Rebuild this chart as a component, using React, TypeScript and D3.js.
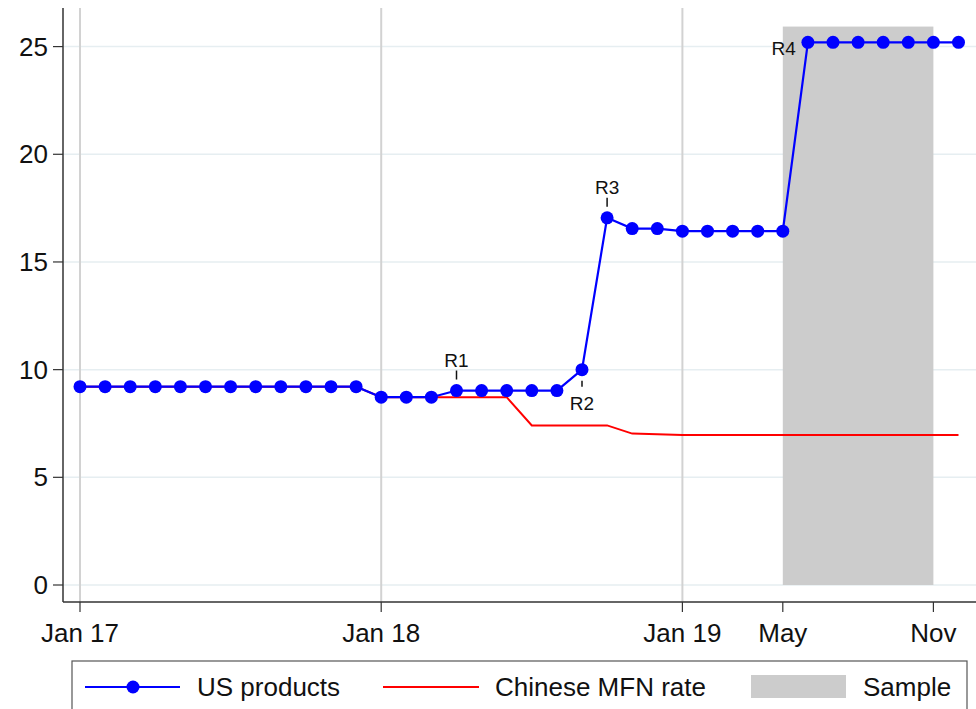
import React from "react";
import * as d3 from "d3";

// month index 0 = Jan 2017 ... 35 = Dec 2019
const usProducts = [
  9.21, 9.21, 9.21, 9.21, 9.21, 9.21, 9.21, 9.21, 9.21, 9.21, 9.21, 9.21,
  8.72, 8.72, 8.72, 9.03, 9.03, 9.03, 9.03, 9.03, 10.0, 17.05, 16.55, 16.55,
  16.43, 16.43, 16.43, 16.43, 16.43, 25.2, 25.2, 25.2, 25.2, 25.2, 25.2, 25.2,
];
const chineseMFN = [
  9.21, 9.21, 9.21, 9.21, 9.21, 9.21, 9.21, 9.21, 9.21, 9.21, 9.21, 9.21,
  8.72, 8.72, 8.72, 8.72, 8.72, 8.72, 7.41, 7.41, 7.41, 7.41, 7.03, 7.0,
  6.96, 6.96, 6.96, 6.96, 6.96, 6.96, 6.96, 6.96, 6.96, 6.96, 6.96, 6.96,
];
const xTickIdx = [0, 12, 24, 28, 34];
const xTickLabels = ["Jan 17", "Jan 18", "Jan 19", "May", "Nov"];
const xLineIdx = [0, 12, 24];
const yTicks = [0, 5, 10, 15, 20, 25];
const sampleRange = [28, 34];
const sampleTop = 25.93;
const roundLabels = [
  { idx: 15, text: "R1", pos: "above" },
  { idx: 20, text: "R2", pos: "below" },
  { idx: 21, text: "R3", pos: "above" },
  { idx: 29, text: "R4", pos: "left" },
];
const legendItems = ["US products", "Chinese MFN rate", "Sample"];

const W = 976;
const H = 709;
const FONT = "'Liberation Sans', Arial, Helvetica, sans-serif";
const BLUE = "#0000ff";
const RED = "#ff0000";
const GREY = "#cccccc";

export default function App() {
  const x = d3.scaleLinear().domain([0, 35]).range([80, 958.5]);
  const y = d3.scaleLinear().domain([0, 25]).range([585, 46.6]);
  const axisY = 602;
  const axisX = 63;

  const line = d3
    .line<number>()
    .x((_, i) => x(i))
    .y((d) => y(d));

  return (
    <div style={{ position: "absolute", left: 0, top: 0 }}>
      <svg width={W} height={H} style={{ display: "block", background: "#fff" }} fontFamily={FONT}>
        {/* horizontal gridlines */}
        {yTicks.map((t) => (
          <line key={"g" + t} x1={axisX} x2={W} y1={y(t)} y2={y(t)} stroke="#e6eef1" strokeWidth={1.5} />
        ))}
        {/* sample shade */}
        <rect
          x={x(sampleRange[0])}
          y={y(sampleTop)}
          width={x(sampleRange[1]) - x(sampleRange[0])}
          height={y(0) - y(sampleTop)}
          fill={GREY}
        />
        {/* vertical lines */}
        {xLineIdx.map((i) => (
          <line key={"v" + i} x1={x(i)} x2={x(i)} y1={8} y2={axisY} stroke="#d2d2d2" strokeWidth={2} />
        ))}
        {/* axes */}
        <line x1={axisX} x2={axisX} y1={8} y2={axisY} stroke="#333" strokeWidth={1.5} />
        <line x1={axisX} x2={W} y1={axisY} y2={axisY} stroke="#333" strokeWidth={1.5} />
        {yTicks.map((t) => (
          <g key={"yt" + t}>
            <line x1={axisX - 10} x2={axisX} y1={y(t)} y2={y(t)} stroke="#333" strokeWidth={1.2} />
            <text x={48} y={y(t)} dy="0.35em" textAnchor="end" fontSize={26} fill="#111">
              {t}
            </text>
          </g>
        ))}
        {xTickIdx.map((i, k) => (
          <g key={"xt" + i}>
            <line x1={x(i)} x2={x(i)} y1={axisY} y2={axisY + 10} stroke="#333" strokeWidth={1.2} />
            <text x={x(i)} y={633} dy="0.35em" textAnchor="middle" fontSize={26} fill="#111">
              {xTickLabels[k]}
            </text>
          </g>
        ))}
        {/* MFN line */}
        <path d={line(chineseMFN) || ""} fill="none" stroke={RED} strokeWidth={2} />
        {/* US products */}
        <path d={line(usProducts) || ""} fill="none" stroke={BLUE} strokeWidth={2.2} />
        {usProducts.map((v, i) => (
          <circle key={"p" + i} cx={x(i)} cy={y(v)} r={6.5} fill={BLUE} />
        ))}
        {/* round labels */}
        {roundLabels.map((r) => {
          const cx = x(r.idx);
          const cy = y(usProducts[r.idx]);
          if (r.pos === "above") {
            return (
              <g key={r.text}>
                <line x1={cx} x2={cx} y1={cy - 20} y2={cy - 11} stroke="#111" strokeWidth={1.5} />
                <text x={cx} y={cy - 30} dy="0.35em" textAnchor="middle" fontSize={19} fill="#111">
                  {r.text}
                </text>
              </g>
            );
          }
          if (r.pos === "below") {
            return (
              <g key={r.text}>
                <line x1={cx} x2={cx} y1={cy + 11} y2={cy + 17} stroke="#111" strokeWidth={1.5} />
                <text x={cx} y={cy + 34} dy="0.35em" textAnchor="middle" fontSize={19} fill="#111">
                  {r.text}
                </text>
              </g>
            );
          }
          return (
            <text key={r.text} x={cx - 12} y={cy + 6} dy="0.35em" textAnchor="end" fontSize={19} fill="#111">
              {r.text}
            </text>
          );
        })}
        {/* legend */}
        <rect x={72} y={661} width={895} height={60} fill="#fff" stroke="#555" strokeWidth={1.2} />
        <line x1={85} x2={180} y1={687} y2={687} stroke={BLUE} strokeWidth={2.2} />
        <circle cx={133} cy={687} r={6.5} fill={BLUE} />
        <text x={197} y={687} dy="0.35em" fontSize={26} fill="#111">
          {legendItems[0]}
        </text>
        <line x1={383} x2={479} y1={687} y2={687} stroke={RED} strokeWidth={2} />
        <text x={495} y={687} dy="0.35em" fontSize={26} fill="#111">
          {legendItems[1]}
        </text>
        <rect x={751} y={675} width={95} height={23} fill={GREY} />
        <text x={863} y={687} dy="0.35em" fontSize={26} fill="#111">
          {legendItems[2]}
        </text>
      </svg>
    </div>
  );
}
